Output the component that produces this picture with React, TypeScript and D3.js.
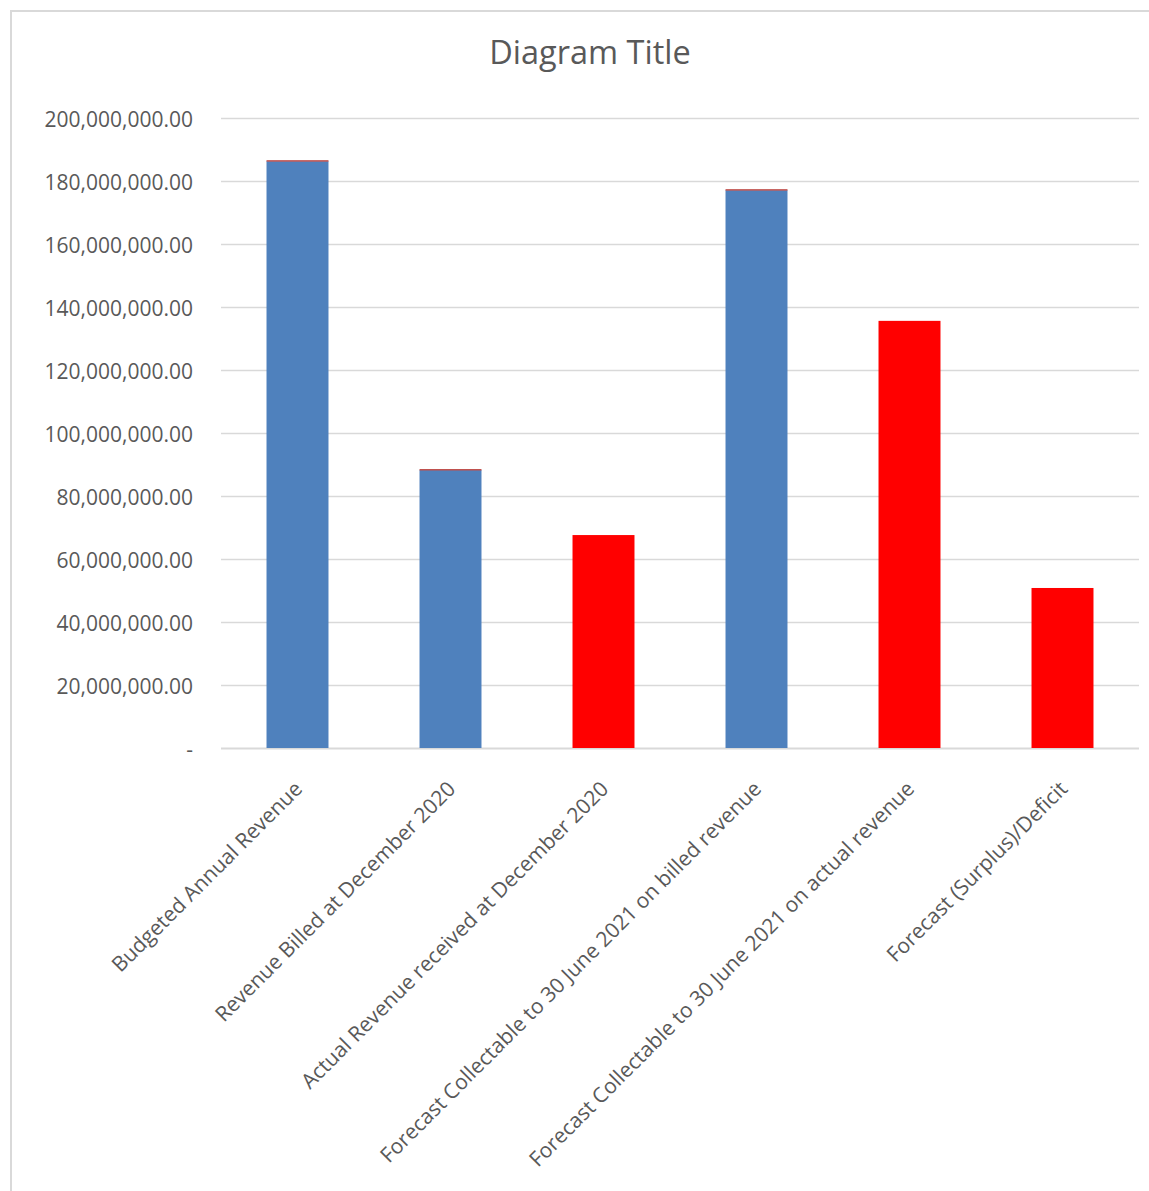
import React from "react";
import * as d3 from "d3";

const categories = [
  "Budgeted Annual Revenue",
  "Revenue Billed at December 2020",
  "Actual Revenue received at December 2020",
  "Forecast Collectable to 30 June 2021 on billed revenue",
  "Forecast Collectable to 30 June 2021 on actual revenue",
  "Forecast (Surplus)/Deficit",
];
const values = [186300000, 88250000, 67600000, 177100000, 135600000, 50800000];
const barColors = ["#4f81bd", "#4f81bd", "#ff0000", "#4f81bd", "#ff0000", "#ff0000"];
const yTicks = [0, 20000000, 40000000, 60000000, 80000000, 100000000, 120000000, 140000000, 160000000, 180000000, 200000000];
const title = "Diagram Title";

const W = 1149;
const H = 1191;
const plotLeft = 221;
const plotRight = 1139;
const plotTop = 118;
const plotBottom = 748;
const FONT = "'Open Sans', sans-serif";

export default function App() {
  const x = d3
    .scaleBand<string>()
    .domain(categories)
    .range([plotLeft, plotRight])
    .paddingInner(0.595)
    .paddingOuter(0.2975);
  const y = d3.scaleLinear().domain([0, 200000000]).range([plotBottom, plotTop]);
  const fmt = d3.format(",.2f");

  return (
    <svg
      width={W}
      height={H}
      style={{ position: "absolute", left: 0, top: 0, background: "#fff" }}
      fontFamily={FONT}
    >
      <rect x={11} y={11} width={W + 20} height={H + 20} fill="#fff" stroke="#d9d9d9" strokeWidth={2} />
      <text x={590} y={64} textAnchor="middle" fontSize={32.5} fill="#595959">
        {title}
      </text>
      {yTicks.map((t) => (
        <g key={t}>
          <line
            x1={plotLeft}
            x2={plotRight}
            y1={Math.round(y(t)) + 0.5}
            y2={Math.round(y(t)) + 0.5}
            stroke="#d9d9d9"
            strokeWidth={t === 0 ? 2 : 1.5}
          />
          <text x={193} y={y(t) + 1.5} dy="0.35em" textAnchor="end" fontSize={21} fill="#595959">
            {t === 0 ? "-" : fmt(t)}
          </text>
        </g>
      ))}
      {categories.map((c, i) => {
        const bx = x(c)!;
        const top = y(values[i]);
        return (
          <g key={c}>
            <rect x={bx} y={top} width={x.bandwidth()} height={plotBottom - top} fill={barColors[i]} />
            {barColors[i] === "#4f81bd" && (
              <rect x={bx} y={top - 1} width={x.bandwidth()} height={1.5} fill="#c0504d" />
            )}
          </g>
        );
      })}
      {categories.map((c) => {
        const cx = x(c)! + x.bandwidth() / 2;
        return (
          <text
            key={c + "l"}
            transform={`translate(${cx + 1},${785}) rotate(-45)`}
            textAnchor="end"
            dy="0.35em"
            fontSize={21}
            fill="#595959"
          >
            {c}
          </text>
        );
      })}
    </svg>
  );
}
